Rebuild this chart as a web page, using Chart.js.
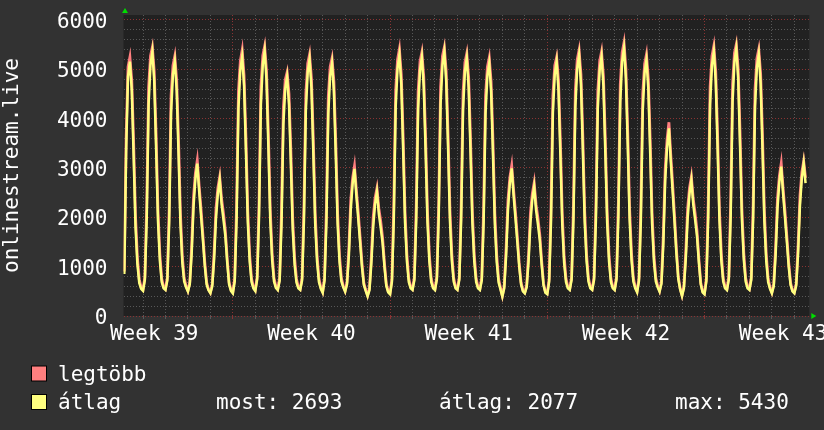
<!DOCTYPE html>
<html>
<head>
<meta charset="utf-8">
<title>onlinestream.live</title>
<script src="https://cdn.jsdelivr.net/npm/chart.js@4.4.1/dist/chart.umd.min.js"></script>
<style>
  html, body { margin: 0; padding: 0; background: #323232; }
  canvas { display: block; }
</style>
</head>
<body>
<canvas id="graph" width="824" height="430"></canvas>
<script>
'use strict';

// hours counted from the first midnight grid line, one sample every 2 hours
const startHour = -20
const stepHours = 2

// max values (red)
const legtobb = [
    900, 3650, 5050, 5245, 4770, 3510, 2020, 1190, 740, 580,
    530, 790, 2280, 4640, 5270, 5447, 4960, 3680, 2150, 1260, 760, 590,
    545, 780, 2200, 4470, 5080, 5270, 4770, 3550, 2080, 1220, 770, 610,
    510, 690, 1420, 2420, 2900, 3156, 2640, 2170, 1650, 1100, 680, 540,
    475, 650, 1300, 2180, 2600, 2824, 2370, 2080, 1730, 1160, 680, 530,
    480, 760, 2250, 4560, 5170, 5392, 4870, 3610, 2110, 1240, 760, 590,
    525, 800, 2310, 4650, 5280, 5467, 4970, 3690, 2150, 1270, 770, 600,
    545, 770, 2150, 4230, 4790, 4940, 4500, 3360, 1970, 1180, 750, 590,
    545, 780, 2240, 4510, 5120, 5305, 4820, 3580, 2090, 1240, 760, 580,
    490, 780, 2200, 4450, 5050, 5224, 4750, 3530, 2070, 1230, 770, 610,
    508, 690, 1380, 2350, 2800, 3041, 2550, 2100, 1600, 1070, 670, 530,
    415, 570, 1210, 2010, 2390, 2589, 2180, 1920, 1590, 1080, 650, 500,
    460, 750, 2250, 4580, 5200, 5413, 4900, 3640, 2120, 1250, 760, 590,
    545, 790, 2260, 4550, 5160, 5345, 4850, 3610, 2110, 1240, 760, 590,
    545, 800, 2300, 4640, 5270, 5447, 4960, 3680, 2150, 1260, 770, 590,
    545, 790, 2250, 4530, 5140, 5325, 4830, 3590, 2100, 1240, 760, 590,
    545, 780, 2200, 4450, 5050, 5237, 4750, 3530, 2070, 1230, 750, 570,
    407, 610, 1370, 2350, 2810, 3048, 2560, 2110, 1610, 1080, 680, 520,
    475, 630, 1250, 2090, 2480, 2703, 2260, 1990, 1650, 1120, 660, 490,
    460, 750, 2210, 4470, 5080, 5245, 4770, 3550, 2080, 1220, 760, 590,
    545, 790, 2270, 4580, 5200, 5392, 4900, 3640, 2120, 1250, 770, 590,
    545, 790, 2260, 4560, 5170, 5358, 4870, 3610, 2110, 1240, 760, 590,
    545, 800, 2320, 4690, 5340, 5541, 5020, 3730, 2170, 1280, 770, 590,
    500, 770, 2230, 4500, 5110, 5305, 4800, 3570, 2090, 1240, 770, 610,
    508, 700, 1650, 2980, 3580, 3926, 3260, 2670, 2030, 1360, 800, 560,
    420, 610, 1300, 2180, 2600, 2824, 2370, 2080, 1730, 1160, 680, 500,
    460, 760, 2290, 4640, 5270, 5473, 4960, 3680, 2150, 1260, 770, 590,
    545, 800, 2320, 4690, 5330, 5507, 5010, 3720, 2170, 1280, 770, 590,
    545, 790, 2270, 4590, 5220, 5406, 4910, 3650, 2130, 1250, 760, 580,
    475, 650, 1390, 2380, 2840, 3095, 2590, 2130, 1620, 1080, 670, 520,
    475, 660, 1420, 2430, 2910, 3142, 2800
]

// average values (yellow)
const atlag = [
    850, 3350, 4850, 5155, 4570, 3230, 1800, 1050, 670, 550,
    510, 730, 1980, 4290, 5090, 5358, 4760, 3400, 1930, 1120, 690, 560,
    527, 720, 1900, 4120, 4900, 5155, 4570, 3270, 1860, 1080, 700, 580,
    495, 640, 1260, 2220, 2780, 3088, 2530, 2040, 1540, 1020, 640, 520,
    460, 600, 1150, 1980, 2480, 2757, 2260, 1950, 1620, 1080, 640, 510,
    460, 700, 1950, 4210, 4990, 5257, 4670, 3330, 1890, 1100, 690, 560,
    507, 740, 2010, 4300, 5100, 5372, 4770, 3410, 1930, 1130, 700, 570,
    527, 710, 1850, 3880, 4610, 4851, 4300, 3080, 1750, 1040, 680, 560,
    527, 720, 1940, 4160, 4940, 5204, 4620, 3300, 1870, 1100, 690, 550,
    470, 720, 1900, 4100, 4870, 5123, 4550, 3250, 1850, 1090, 700, 580,
    493, 640, 1220, 2150, 2680, 2980, 2440, 1970, 1490, 990, 630, 510,
    400, 520, 1060, 1810, 2270, 2520, 2070, 1790, 1480, 1000, 610, 480,
    440, 690, 1950, 4230, 5020, 5291, 4700, 3360, 1900, 1110, 690, 560,
    527, 730, 1960, 4200, 4980, 5245, 4650, 3330, 1890, 1100, 690, 560,
    527, 740, 2000, 4290, 5090, 5358, 4760, 3400, 1930, 1120, 700, 560,
    527, 730, 1950, 4180, 4960, 5224, 4630, 3310, 1880, 1100, 690, 560,
    527, 720, 1900, 4100, 4870, 5123, 4550, 3250, 1850, 1090, 680, 540,
    392, 560, 1210, 2150, 2690, 2993, 2450, 1980, 1500, 1000, 640, 500,
    460, 580, 1100, 1890, 2360, 2622, 2150, 1860, 1540, 1040, 620, 470,
    440, 690, 1910, 4120, 4900, 5155, 4570, 3270, 1860, 1080, 690, 560,
    527, 730, 1970, 4230, 5020, 5291, 4700, 3360, 1900, 1110, 700, 560,
    527, 730, 1960, 4210, 4990, 5257, 4670, 3330, 1890, 1100, 690, 560,
    527, 740, 2020, 4340, 5160, 5430, 4820, 3450, 1950, 1140, 700, 560,
    480, 710, 1930, 4150, 4930, 5190, 4600, 3290, 1870, 1100, 700, 580,
    493, 650, 1450, 2740, 3420, 3804, 3120, 2510, 1900, 1260, 750, 540,
    405, 560, 1150, 1980, 2480, 2757, 2260, 1950, 1620, 1080, 640, 480,
    440, 700, 1990, 4290, 5090, 5358, 4760, 3400, 1930, 1120, 700, 560,
    527, 740, 2020, 4340, 5150, 5420, 4810, 3440, 1950, 1140, 700, 560,
    527, 730, 1970, 4240, 5040, 5305, 4710, 3370, 1910, 1110, 690, 550,
    460, 600, 1230, 2180, 2720, 3027, 2480, 2000, 1510, 1000, 630, 500,
    460, 610, 1260, 2230, 2790, 3095, 2693
]

const weekLabels = ['Week 39', 'Week 40', 'Week 41', 'Week 42', 'Week 43']
const weekLabelHours = [12, 180, 348, 516, 684]
const weekLineHours = [96, 264, 432, 600]

const mostValue = 2693
const atlagValue = 2077
const maxValue = 5430

const FONT = 'DejaVu Sans Mono'
const TEXT = '#ffffff'
const GRID = '#585858'
const GRID_MAJOR = '#8a3434'
const RED = '#ff7f7f'
const YELLOW = '#ffff7f'

const toPoints = (values) => values.map((v, i) => ({ x: startHour + i * stepHours, y: v }))

const paintBackground = {
    id: 'paintBackground',
    beforeDraw(chart) {
        const { ctx, chartArea } = chart
        ctx.save()
        ctx.fillStyle = '#323232'
        ctx.fillRect(0, 0, chart.width, chart.height)
        ctx.fillStyle = '#212121'
        ctx.fillRect(chartArea.left, chartArea.top, chartArea.right - chartArea.left, chartArea.bottom - chartArea.top)
        ctx.restore()
    }
}

const extras = {
    id: 'extras',
    afterDraw(chart) {
        const { ctx, chartArea } = chart
        ctx.save()

        // little green arrows at the axis ends
        ctx.fillStyle = '#00dd00'
        ctx.beginPath()
        ctx.moveTo(chartArea.left - 1.5, 13)
        ctx.lineTo(chartArea.left + 4.5, 13)
        ctx.lineTo(chartArea.left + 1.5, 8)
        ctx.fill()
        ctx.beginPath()
        ctx.moveTo(chartArea.right + 2, chartArea.bottom - 3)
        ctx.lineTo(chartArea.right + 2, chartArea.bottom + 3)
        ctx.lineTo(chartArea.right + 7, chartArea.bottom)
        ctx.fill()

        // legend
        const boxes = [[RED, 366], [YELLOW, 394.5]]
        boxes.forEach(([color, y]) => {
            ctx.fillStyle = color
            ctx.fillRect(31.5, y, 15, 15)
            ctx.strokeStyle = '#000000'
            ctx.lineWidth = 1
            ctx.strokeRect(31.5, y, 15, 15)
        })

        ctx.fillStyle = TEXT
        ctx.font = '21px "' + FONT + '"'
        ctx.textBaseline = 'alphabetic'
        ctx.fillText('legtöbb', 58, 381)
        ctx.fillText('átlag', 58, 409)
        ctx.fillText('most: ' + mostValue, 216, 409)
        ctx.fillText('átlag: ' + atlagValue, 439, 409)
        ctx.fillText('max: ' + maxValue, 675, 409)
        ctx.restore()
    }
}

new Chart(document.getElementById('graph'), {
    type: 'line',
    data: {
        datasets: [{
            label: 'átlag',
            data: toPoints(atlag),
            borderColor: YELLOW,
            borderWidth: 2.5,
            pointRadius: 0,
            tension: 0,
            order: 0
        }, {
            label: 'legtöbb',
            data: toPoints(legtobb),
            borderColor: RED,
            borderWidth: 2.8,
            pointRadius: 0,
            tension: 0,
            order: 1
        }]
    },
    options: {
        responsive: false,
        animation: false,
        layout: { padding: { top: 15, right: 14.7, left: 0, bottom: 0 } },
        plugins: {
            legend: { display: false },
            tooltip: { enabled: false }
        },
        scales: {
            x: {
                type: 'linear',
                min: -20.84,
                max: 712,
                afterBuildTicks(scale) {
                    const ticks = []
                    for (let h = 0; h <= 696; h += 24) ticks.push(h)
                    weekLabelHours.forEach(h => ticks.push(h))
                    ticks.sort((a, b) => a - b)
                    scale.ticks = ticks.map(v => ({ value: v }))
                },
                afterFit(scale) {
                    scale.height = 114
                    scale.paddingLeft = 0
                    scale.paddingRight = 0
                },
                grid: {
                    color(ctx) {
                        const v = ctx.tick.value
                        if (weekLineHours.includes(v)) return GRID_MAJOR
                        if (v % 24 === 0) return GRID
                        return 'rgba(0,0,0,0)'
                    },
                    lineWidth: 1,
                    drawTicks: true,
                    tickLength: 3
                },
                border: { display: false, dash: [1, 2] },
                ticks: {
                    autoSkip: false,
                    maxRotation: 0,
                    minRotation: 0,
                    padding: 3,
                    color: TEXT,
                    font: { family: FONT, size: 21 },
                    callback(value) {
                        const i = weekLabelHours.indexOf(value)
                        return i >= 0 ? weekLabels[i] : ''
                    }
                }
            },
            y: {
                min: 0,
                max: 6100,
                afterBuildTicks(scale) {
                    const ticks = []
                    for (let v = 0; v <= 6000; v += 200) ticks.push({ value: v })
                    scale.ticks = ticks
                },
                afterFit(scale) {
                    scale.width = 123.5
                    scale.paddingTop = 0
                    scale.paddingBottom = 0
                },
                grid: {
                    color(ctx) {
                        return ctx.tick.value % 1000 === 0 ? GRID_MAJOR : GRID
                    },
                    lineWidth: 1,
                    drawTicks: false
                },
                border: { display: false, dash: [1, 2] },
                title: {
                    display: true,
                    text: 'onlinestream.live',
                    color: TEXT,
                    font: { family: FONT, size: 21 },
                    padding: { top: 0, bottom: 0 }
                },
                ticks: {
                    autoSkip: false,
                    padding: 16,
                    labelOffset: 2.5,
                    color: TEXT,
                    font: { family: FONT, size: 21 },
                    callback(value) {
                        return value % 1000 === 0 ? String(value) : ''
                    }
                }
            }
        }
    },
    plugins: [paintBackground, extras]
})
</script>
</body>
</html>
